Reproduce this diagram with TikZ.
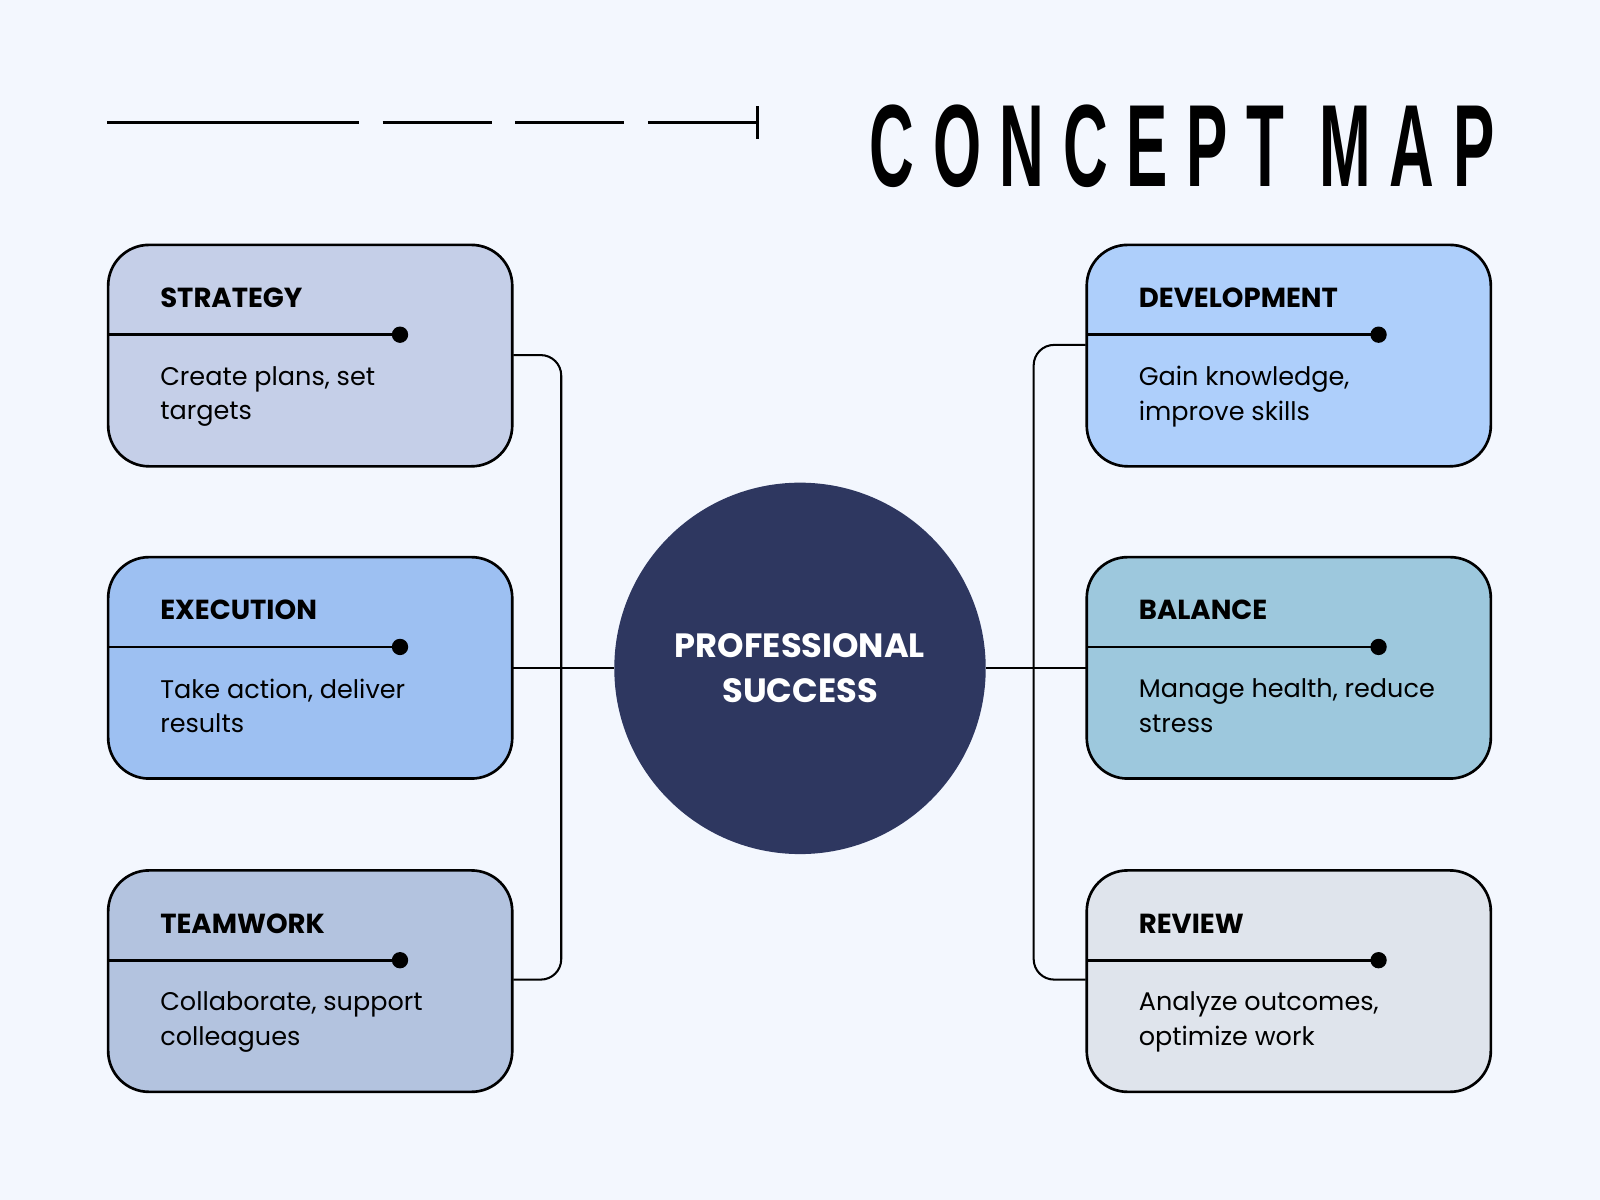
\documentclass[tikz,border=0pt]{standalone}
\usepackage{fontspec}
\setmainfont{Poppins}
\newfontfamily\titlefont[LetterSpace=30]{Liberation Sans}
\usepackage{graphicx}
\definecolor{bg}{HTML}{F3F7FE}
\definecolor{cstr}{HTML}{C5CFE8}
\definecolor{cdev}{HTML}{AECFFB}
\definecolor{cexe}{HTML}{9DC0F2}
\definecolor{cbal}{HTML}{9DC8DD}
\definecolor{ctea}{HTML}{B3C3DF}
\definecolor{crev}{HTML}{DFE4EC}
\definecolor{navy}{HTML}{2E3760}
\begin{document}
\begin{tikzpicture}[x=0.5pt,y=-0.5pt,
  box/.style={draw=black,line width=1.3pt,rounded corners=20pt},
  ttl/.style={anchor=west,font=\fontsize{13.5}{16}\selectfont\bfseries},
  dsc/.style={anchor=north west,align=left,font=\fontsize{12.5}{17}\selectfont},
  ln/.style={line width=1pt}]
\fill[bg] (0,0) rectangle (1568,1176);
\useasboundingbox (0,0) rectangle (1568,1176);
% header
\draw[line width=1.6pt] (105,120)--(352,120) (375,120)--(482,120) (505,120)--(612,120) (635,120)--(742,120) (742,104)--(742,136);
\node[anchor=west,inner sep=0] (title) at (852,143) {\resizebox{306pt}{40pt}{\titlefont\bfseries CONCEPT MAP}};
% boxes
\newcommand\cbox[6]{%
  \draw[box,fill=#3] (#1,#2) rectangle ++(396,217);
  \coordinate (#4) at (#1,#2);
  \draw[line width=1.3pt] (#1,#2+88) -- ++(286,0);
  \fill (#1+286,#2+88) circle (4pt);
  \node[ttl] at (#1+44,#2+52) {#5};
  \node[dsc] at (#1+44,#2+112) {#6};}
\cbox{106}{240}{cstr}{str}{STRATEGY}{Create plans, set\\targets}
\cbox{106}{546}{cexe}{exe}{EXECUTION}{Take action, deliver\\results}
\cbox{106}{853}{ctea}{tea}{TEAMWORK}{Collaborate, support\\colleagues}
\cbox{1065}{240}{cdev}{dev}{DEVELOPMENT}{Gain knowledge,\\improve skills}
\cbox{1065}{546}{cbal}{bal}{BALANCE}{Manage health, reduce\\stress}
\cbox{1065}{853}{crev}{rev}{REVIEW}{Analyze outcomes,\\optimize work}
\node[circle,fill=navy,minimum size=182pt,inner sep=0,text=white,align=center,
  font=\fontsize{16.5}{22}\selectfont\bfseries] (c) at (784,655) {PROFESSIONAL\\SUCCESS};
% connectors
\draw[ln,rounded corners=10pt] (503,348) -- (550,348) -- (550,960) -- (503,960);
\draw[ln] (503,655) -- (c.west);
\draw[ln,rounded corners=10pt] (1064,338) -- (1013,338) -- (1013,960) -- (1064,960);
\draw[ln] (c.east) -- (1064,655);
\end{tikzpicture}
\end{document}
